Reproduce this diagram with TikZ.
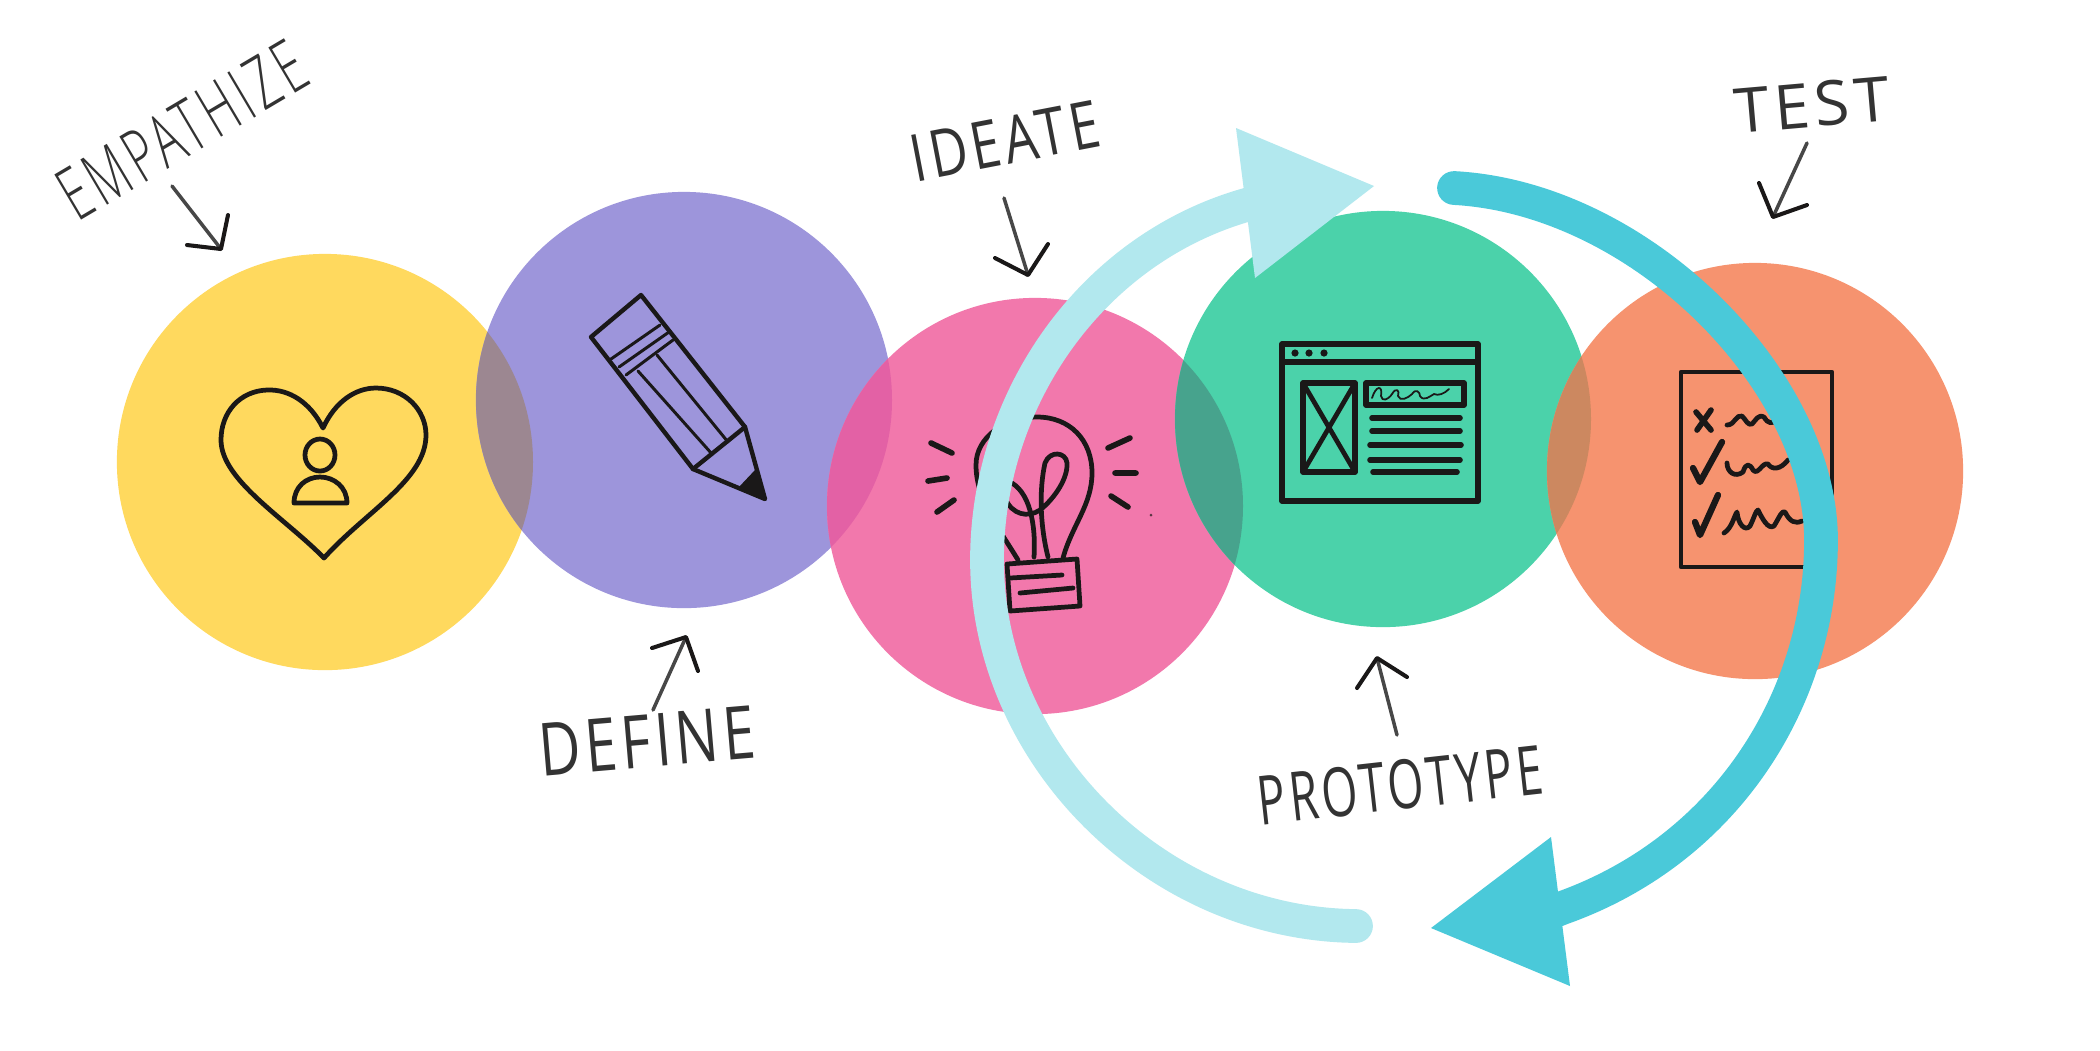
\documentclass[tikz,border=0pt]{standalone}
\usepackage{fontspec}
\newfontfamily\hand[LetterSpace=8]{Open Sans}
\newfontfamily\handlight[LetterSpace=10]{Open Sans Light}
\definecolor{cyellow}{HTML}{FFD95E}
\definecolor{cpurple}{HTML}{9D95DB}
\definecolor{cpink}{HTML}{F278AC}
\definecolor{cgreen}{HTML}{4BD2AA}
\definecolor{corange}{HTML}{F6936F}
\definecolor{ovyp}{HTML}{9C8791}
\definecolor{ovpp}{HTML}{E361A5}
\definecolor{ovpg}{HTML}{47A38D}
\definecolor{ovgo}{HTML}{CC8860}
\definecolor{clight}{HTML}{B2E8EE}
\definecolor{cdark}{HTML}{4AC9D9}
\definecolor{ink}{HTML}{1A1818}
\definecolor{pencilgrey}{HTML}{333333}
\tikzset{
  x=0.01cm,y=-0.01cm,
  blob/.style={circle,inner sep=0pt,outer sep=0pt,minimum size=4.16cm,fill=#1},
  icon/.style={draw=ink,line width=1.35pt,line join=round,line cap=round},
  iconthin/.style={icon,line width=0.85pt},
  ray/.style={icon,line width=1.6pt},
  stem/.style={draw=pencilgrey!90,line width=1pt,line cap=round},
  barb/.style={draw=ink,line width=1.15pt,line cap=round,line join=round},
  lab/.style={font=\hand\fontsize{22}{22}\selectfont,text=pencilgrey,inner sep=0pt,transform shape},
  lablight/.style={font=\handlight\fontsize{22}{22}\selectfont,text=pencilgrey,inner sep=0pt,transform shape},
  lightarc/.style={draw=clight,line width=9.6pt,line cap=round,line join=round},
  darkarc/.style={draw=cdark,line width=9.6pt,line cap=round,line join=round},
}
\begin{document}
\begin{tikzpicture}
\useasboundingbox (0,0) rectangle (2100,1050);
\fill[white] (0,0) rectangle (2100,1050);
% circles
\node[blob=cyellow] (yel) at (325,462) {};
\node[blob=cpurple] (pur) at (684,400) {};
\node[blob=cpink] (pin) at (1035,506) {};
\node[blob=cgreen] (gre) at (1383,419) {};
\node[blob=corange] (ora) at (1755,471) {};
% overlaps
\begin{scope}\clip (325,462) circle (208);\fill[ovyp] (684,400) circle (208);\end{scope}
\begin{scope}\clip (684,400) circle (208);\fill[ovpp] (1035,506) circle (208);\end{scope}
\begin{scope}\clip (1035,506) circle (208);\fill[ovpg] (1383,419) circle (208);\end{scope}
\begin{scope}\clip (1383,419) circle (208);\fill[ovgo] (1755,471) circle (208);\end{scope}
% heart
\draw[icon] (323,428) .. controls (310,402) and (289,389) .. (267,390)
  .. controls (240,391) and (221,412) .. (221,440)
  .. controls (221,480) and (285,518) .. (324,558)
  .. controls (365,512) and (426,480) .. (426,435)
  .. controls (426,410) and (405,388) .. (376,388)
  .. controls (355,388) and (335,402) .. (323,428) -- cycle;
\draw[icon] (320,455) ellipse (15 and 16);
\draw[icon] (294,503) .. controls (294,487) and (306,477) .. (320,477)
  .. controls (334,477) and (347,487) .. (347,503) -- cycle;
% pencil
\draw[icon,line width=1.25pt] (641,295) -- (591,337) -- (693,469) -- (765,499) -- (745,427) -- cycle;
\draw[icon,line width=1.25pt] (693,469) -- (745,427);
\draw[iconthin] (611,359) -- (660,325) (619,367) -- (669,332) (626,375) -- (673,340);
\draw[iconthin] (638,371) -- (712,454) (657,355) -- (728,442);
\fill[ink] (738,488) -- (755,470) -- (765,499) -- cycle;
% bulb
\draw[icon] (1018,560) .. controls (1000,530) and (976,500) .. (976,465)
  .. controls (976,437) and (1005,417) .. (1037,417)
  .. controls (1070,417) and (1092,440) .. (1092,473)
  .. controls (1092,505) and (1072,525) .. (1063,558);
\draw[icon] (1034,557) .. controls (1036,525) and (1030,490) .. (1008,481);
\draw[icon] (1005,498) .. controls (1012,515) and (1028,518) .. (1040,510)
  .. controls (1055,498) and (1068,478) .. (1067,463)
  .. controls (1066,452) and (1050,450) .. (1045,463)
  .. controls (1039,490) and (1040,525) .. (1048,557);
\draw[icon] (1007,564) -- (1077,559) -- (1080,606) -- (1010,611) -- cycle;
\draw[icon] (1010,578) -- (1062,575) (1020,593) -- (1073,588);
\draw[ray] (931,443) -- (952,453) (928,481) -- (947,478) (937,512) -- (954,500)
  (1108,448) -- (1130,438) (1115,473) -- (1136,473) (1111,496) -- (1128,507);
\fill[ink!70!cpink] (1151,515) circle (1.5);
% browser
\draw[icon,line width=1.45pt] (1282,344) rectangle (1478,501);
\draw[icon,line width=1.45pt] (1282,362) -- (1478,362);
\fill[ink] (1295,353) circle (3.6) (1309,353) circle (3.6) (1324,353) circle (3.6);
\draw[icon,line width=1.6pt] (1303,383) rectangle (1355,472);
\draw[icon] (1303,383) -- (1355,472) (1355,383) -- (1303,472);
\draw[icon,line width=1.6pt] (1366,383) rectangle (1464,405);
\draw[iconthin,line width=0.5pt] (1372,398) .. controls (1376,385) and (1383,385) .. (1381,396)
  .. controls (1382,402) and (1388,400) .. (1392,394)
  .. controls (1396,387) and (1400,390) .. (1398,396)
  .. controls (1400,402) and (1408,398) .. (1412,394)
  .. controls (1416,388) and (1420,392) .. (1420,396)
  .. controls (1424,402) and (1430,396) .. (1434,394)
  .. controls (1438,396) and (1444,394) .. (1449,389);
\draw[icon,line width=1.6pt] (1372,418) -- (1460,418) (1372,431) -- (1460,431) (1370,445) -- (1461,445)
  (1370,460) -- (1460,460) (1373,472) -- (1457,472);
% checklist
\draw[icon] (1681,372) rectangle (1832,567);
\draw[ray] (1696,412) -- (1711,430) (1711,410) -- (1697,430);
\draw[ray,line width=1.8pt] (1693,468) -- (1700,482) -- (1722,442);
\draw[ray,line width=1.8pt] (1695,522) -- (1700,535) -- (1718,495);
\draw[icon] (1727,425) .. controls (1735,425) and (1736,414) .. (1742,416)
  .. controls (1746,420) and (1748,426) .. (1752,424)
  .. controls (1756,420) and (1758,414) .. (1764,417)
  .. controls (1768,424) and (1772,424) .. (1778,420);
\draw[icon] (1727,463) .. controls (1727,472) and (1735,478) .. (1743,472)
  .. controls (1746,462) and (1750,464) .. (1753,470)
  .. controls (1758,476) and (1762,462) .. (1768,464)
  .. controls (1772,470) and (1780,470) .. (1788,460);
\draw[icon] (1724,533) .. controls (1732,528) and (1734,516) .. (1737,512)
  .. controls (1738,524) and (1745,532) .. (1750,526)
  .. controls (1754,518) and (1756,510) .. (1758,510)
  .. controls (1762,518) and (1768,530) .. (1774,526)
  .. controls (1780,516) and (1782,510) .. (1785,512)
  .. controls (1790,522) and (1795,524) .. (1802,521);
% cycle arcs
\coordinate (ls) at (1356,926);
\coordinate (ll) at (987,560);
\coordinate (lb) at (1246,205);
\coordinate (le) at (1280,195);
\coordinate (ds) at (1454,188);
\coordinate (dr) at (1821,540);
\coordinate (db) at (1562,908);
\coordinate (de) at (1520,925);
\draw[lightarc] (ls) .. controls (1156,924) and (987,755) .. (ll)
  .. controls (987,400) and (1090,250) .. (lb) -- (le);
\fill[clight] (1236,128) -- (1374,186) -- (1255,278) -- cycle;
\draw[darkarc] (ds) .. controls (1640,198) and (1821,380) .. (dr)
  .. controls (1821,700) and (1725,850) .. (db) -- (de);
\fill[cdark] (1431,928) -- (1551,837) -- (1570,986) -- cycle;
% labels and arrows
\node[lablight,rotate=30.6,xscale=.6,yscale=.95] (emp) at (182,130) {EMPATHIZE};
\coordinate (e1) at (172,186); \coordinate (e2) at (221,249);
\coordinate (e3) at (228,215); \coordinate (e4) at (187,245);
\draw[stem] (e1) -- (e2);
\draw[barb] (e3) -- (e2) -- (e4);
\node[lab,rotate=4.9,xscale=.74,yscale=.95] (def) at (647,741) {DEFINE};
\coordinate (d1) at (653,710); \coordinate (d2) at (686,637);
\coordinate (d3) at (652,648); \coordinate (d4) at (698,671);
\draw[stem] (d1) -- (d2);
\draw[barb] (d3) -- (d2) -- (d4);
\node[lab,rotate=10.9,xscale=.68,yscale=.85] (ide) at (1005,141) {IDEATE};
\coordinate (i1) at (1004,198); \coordinate (i2) at (1028,275);
\coordinate (i3) at (1048,244); \coordinate (i4) at (995,258);
\draw[stem] (i1) -- (i2);
\draw[barb] (i3) -- (i2) -- (i4);
\node[lab,rotate=6.4,xscale=.6,yscale=.88] (pro) at (1400,785) {PROTOTYPE};
\coordinate (p1) at (1397,735); \coordinate (p2) at (1377,658);
\coordinate (p3) at (1357,688); \coordinate (p4) at (1407,677);
\draw[stem] (p1) -- (p2);
\draw[barb] (p3) -- (p2) -- (p4);
\node[lab,rotate=5,xscale=.82,yscale=.8] (tes) at (1812,105) {TEST};
\coordinate (t1) at (1807,143); \coordinate (t2) at (1773,217);
\coordinate (t3) at (1759,183); \coordinate (t4) at (1807,205);
\draw[stem] (t1) -- (t2);
\draw[barb] (t3) -- (t2) -- (t4);
\end{tikzpicture}
\end{document}
